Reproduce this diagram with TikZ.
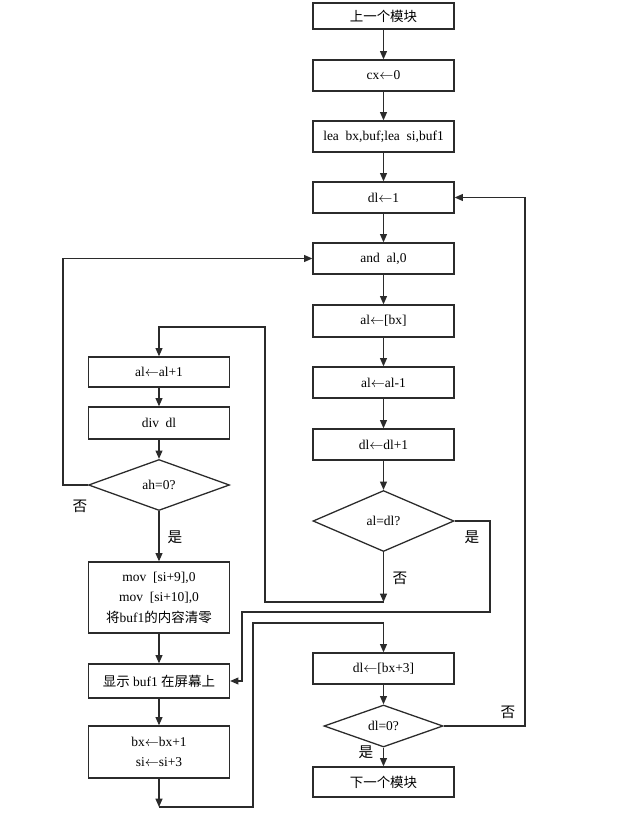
\documentclass[tikz,border=0pt]{standalone}
\usepackage{fontspec}
\setmainfont{Liberation Serif}
\newfontfamily\cjk{Noto Sans CJK SC}
\usetikzlibrary{shapes.geometric,arrows.meta}
\definecolor{lineC}{HTML}{2B2B2B}
\newcommand{\asgn}{\ensuremath{\leftarrow}}

\begin{document}
\begin{tikzpicture}[x=0.3mm,y=-0.3mm,>={Triangle[length=2.5mm,width=2.1mm]},
  box/.style={draw,lineC,text=black,line width=1.1pt,minimum width=42.3mm,minimum height=9.3mm,inner sep=0pt,align=center,font=\fontsize{11.5}{14}\selectfont},
  cond/.style={draw,lineC,text=black,diamond,line width=1.1pt,inner sep=0pt,font=\fontsize{11.5}{14}\selectfont},
  link/.style={->,line width=1pt,lineC},
  lbl/.style={font=\fontsize{12.5}{14}\selectfont\cjk}]
\useasboundingbox (0,0) rectangle (633,820);
% right column
\node[box,minimum height=7.8mm] (prev) at (383.5,16) {\cjk 上一个模块};
\node[box] (cx) at (383.5,75.5) {cx\asgn0};
\node[box] (lea) at (383.5,136.5) {lea~~bx,buf;lea~~si,buf1};
\node[box] (dlone) at (383.5,197.5) {dl\asgn1};
\node[box] (andal) at (383.5,258.5) {and~~al,0};
\node[box,minimum height=9.6mm] (albx) at (383.5,321) {al\asgn[bx]};
\node[box] (aldec) at (383.5,382.5) {al\asgn al-1};
\node[box] (dlinc) at (383.5,444.5) {dl\asgn dl+1};
\node[cond,minimum width=42.3mm,minimum height=18.3mm] (aleq) at (383.5,521) {al=dl?};
\node[box] (dlbx) at (383.5,668.5) {dl\asgn[bx+3]};
\node[cond,minimum width=35.7mm,minimum height=12.6mm] (dlzero) at (383.5,726) {dl=0?};
\node[box,minimum height=9mm] (next) at (383.5,782) {\cjk 下一个模块};
% left column
\node[box,minimum height=9mm] (alinc) at (159,372) {al\asgn al+1};
\node[box,minimum height=9.6mm] (divdl) at (159,423) {div~~dl};
\node[cond,minimum width=42.3mm,minimum height=15.3mm] (ahzero) at (159,485) {ah=0?};
\node[box,minimum height=21.3mm,font=\fontsize{11.5}{17.5}\selectfont] (mov) at (159,597.5)
  {mov~~[si+9],0\\mov~~[si+10],0\\{\cjk 将}buf1{\cjk 的内容清零}};
\node[box,minimum height=10.2mm] (show) at (159,681) {{\cjk 显示} buf1 {\cjk 在屏幕上}};
\node[box,minimum height=15.6mm,font=\fontsize{11.5}{17}\selectfont] (bxsi) at (159,752)
  {bx\asgn bx+1\\si\asgn si+3};
% corners of the loops
\coordinate (aldown) at (383.5,602);
\coordinate (uptop) at (265,327);
\coordinate (ahleft) at (63,485);
\coordinate (yesright) at (490,612);
\coordinate (yesdown) at (242,681);
\coordinate (bxdown) at (159,807);
\coordinate (bxup) at (253,623);
\coordinate (dlright) at (525,726);
% straight flow
\draw[link] (prev) -- (cx);
\draw[link] (cx) -- (lea);
\draw[link] (lea) -- (dlone);
\draw[link] (dlone) -- (andal);
\draw[link] (andal) -- (albx);
\draw[link] (albx) -- (aldec);
\draw[link] (aldec) -- (dlinc);
\draw[link] (dlinc) -- (aleq);
\draw[link] (alinc) -- (divdl);
\draw[link] (divdl) -- (ahzero);
\draw[link] (ahzero) -- (mov);
\draw[link] (mov) -- (show);
\draw[link] (show) -- (bxsi);
\draw[link] (dlbx) -- (dlzero);
\draw[link] (dlzero) -- (next);
% loops
\draw[link] (aleq) -- (aldown);
\draw[link] (aldown) -| (uptop) -| (alinc.north);
\draw[link] (ahzero.west) -- (ahleft) |- (andal.west);
\draw[link] (aleq.east) -| (yesright) -| (yesdown) -- (show.east);
\draw[link] (bxsi) -- (bxdown);
\draw[link] (bxdown) -| (bxup) -| (dlbx.north);
\draw[link] (dlzero.east) -- (dlright) |- (dlone.east);
% labels
\node[lbl] (nah) at (80,506) {否};
\node[lbl] (yah) at (175,537) {是};
\node[lbl] (nal) at (400,578) {否};
\node[lbl] (yal) at (472,537) {是};
\node[lbl] (ndl) at (508,712) {否};
\node[lbl] (ydl) at (366,752) {是};
\end{tikzpicture}
\end{document}
